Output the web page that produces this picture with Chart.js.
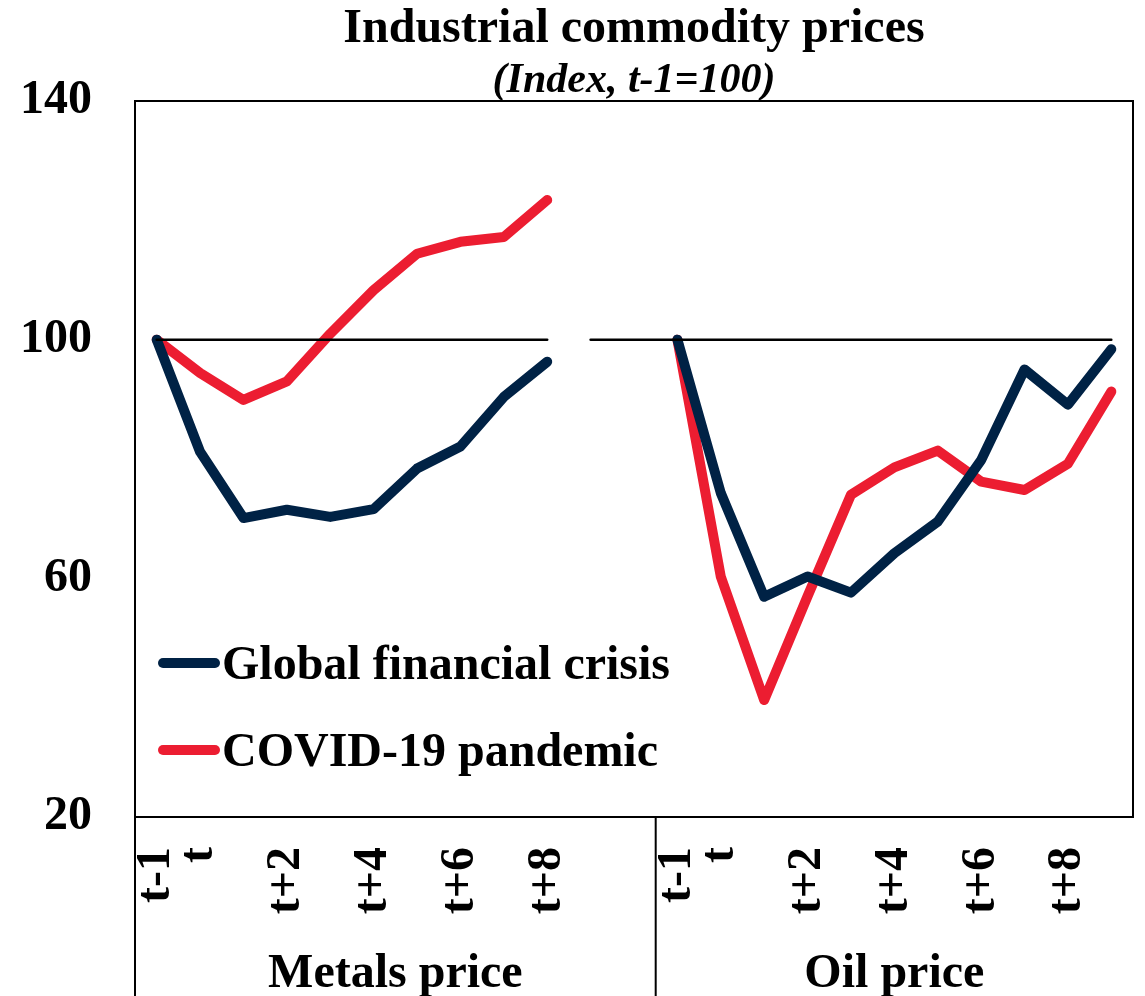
<!DOCTYPE html>
<html>
<head>
<meta charset="utf-8">
<script src="https://cdn.jsdelivr.net/npm/chart.js@4.4.1/dist/chart.umd.min.js"></script>
<style>
  html, body { margin: 0; padding: 0; background: #ffffff; }
  #wrap { position: relative; width: 1145px; height: 996px; }
</style>
</head>
<body>
<div id="wrap"><canvas id="c" width="1145" height="996"></canvas></div>
<script>
// ---- Data ----
const titleText = 'Industrial commodity prices';
const subtitleText = '(Index, t-1=100)';
const groupNames = ['Metals price', 'Oil price'];
const seriesNames = ['Global financial crisis', 'COVID-19 pandemic'];

const metalsPeriods = ['t-1', 't', 't+1', 't+2', 't+3', 't+4', 't+5', 't+6', 't+7', 't+8'];
const metalsBlankSlots = ['', ''];
const oilPeriods = ['t-1', 't', 't+1', 't+2', 't+3', 't+4', 't+5', 't+6', 't+7', 't+8', 't+9'];
const shownTickLabels = ['t-1', 't', 't+2', 't+4', 't+6', 't+8'];

const metalsGFC   = [100, 81.2, 70.1, 71.5, 70.3, 71.6, 78.4, 82.1, 90.4, 96.3];
const metalsCOVID = [100, 94.4, 89.9, 93.0, 101.0, 108.3, 114.4, 116.4, 117.2, 123.4];
const oilGFC      = [100, 74.3, 56.9, 60.3, 57.6, 64.2, 69.5, 79.8, 95.0, 89.1, 98.4];
const oilCOVID    = [100, 60.3, 39.6, 57.0, 74.0, 78.6, 81.4, 76.2, 74.8, 79.2, 91.3];
const baselineValue = 100;

const yTicks = [20, 60, 100, 140];

// ---- Build the library structures ----
const labels = [...metalsPeriods, ...metalsBlankSlots, ...oilPeriods];
const nMetalsGroup = metalsPeriods.length + metalsBlankSlots.length;
const pad = n => Array(n).fill(null);
const gfcData   = [...metalsGFC, ...pad(metalsBlankSlots.length), ...oilGFC];
const covidData = [...metalsCOVID, ...pad(metalsBlankSlots.length), ...oilCOVID];
const baseMetals = [...metalsPeriods.map(() => baselineValue), ...pad(labels.length - metalsPeriods.length)];
const baseOil = [...pad(metalsPeriods.length), ...labels.slice(metalsPeriods.length).map(() => baselineValue)];

const NAVY = '#002245';
const RED = '#EC1D31';
const FONT = '"Liberation Serif", "Times New Roman", serif';

const decorPlugin = {
  id: 'decor',
  afterDraw(chart) {
    const ctx = chart.ctx;
    const a = chart.chartArea;
    const xs = chart.scales.x;
    ctx.save();
    // plot border
    ctx.strokeStyle = '#000';
    ctx.lineWidth = 2;
    ctx.strokeRect(a.left, a.top, a.right - a.left, a.bottom - a.top);
    // group separators below the axis
    const step = xs.getPixelForValue(1) - xs.getPixelForValue(0);
    const boundary = xs.getPixelForValue(nMetalsGroup - 1) + step / 2;
    ctx.beginPath();
    ctx.moveTo(a.left, a.bottom); ctx.lineTo(a.left, chart.height);
    ctx.moveTo(boundary, a.bottom); ctx.lineTo(boundary, chart.height);
    ctx.stroke();
    // group labels
    ctx.fillStyle = '#000';
    ctx.font = 'bold 48px ' + FONT;
    ctx.textAlign = 'center';
    ctx.textBaseline = 'alphabetic';
    ctx.fillText(groupNames[0], (a.left + boundary) / 2, 987);
    ctx.fillText(groupNames[1], (boundary + a.right) / 2, 987);
    // title
    const cx = (a.left + a.right) / 2;
    ctx.font = 'bold 48px ' + FONT;
    ctx.fillText(titleText, cx, 42);
    ctx.font = 'italic bold 42px ' + FONT;
    ctx.fillText(subtitleText, cx, 92);
    // legend inside plot
    const colors = [NAVY, RED];
    const rows = [663, 750];
    ctx.textAlign = 'left';
    ctx.font = 'bold 48px ' + FONT;
    rows.forEach((ry, i) => {
      ctx.strokeStyle = colors[i];
      ctx.lineWidth = 10;
      ctx.lineCap = 'round';
      ctx.beginPath();
      ctx.moveTo(163, ry); ctx.lineTo(215, ry);
      ctx.stroke();
      ctx.fillStyle = '#000';
      ctx.fillText(seriesNames[i], 222, ry + 16);
    });
    ctx.restore();
  }
};

const lineDs = (label, data, color, width) => ({
  label, data,
  borderColor: color, backgroundColor: color,
  borderWidth: width, pointRadius: 0, pointHoverRadius: 0,
  borderCapStyle: 'round', borderJoinStyle: 'round',
  spanGaps: false, tension: 0, fill: false
});

new Chart(document.getElementById('c'), {
  type: 'line',
  data: {
    labels,
    datasets: [
      lineDs('base-metals', baseMetals, '#000', 2.5),
      lineDs('base-oil', baseOil, '#000', 2.5),
      lineDs(seriesNames[0], gfcData, NAVY, 10),
      lineDs(seriesNames[1], covidData, RED, 10)
    ]
  },
  options: {
    responsive: false,
    animation: false,
    events: [],
    layout: { padding: { top: 101, right: 12, left: 0, bottom: 0 } },
    plugins: { legend: { display: false }, title: { display: false }, tooltip: { enabled: false } },
    scales: {
      x: {
        type: 'category',
        offset: true,
        grid: { display: false, drawTicks: false },
        border: { display: true, color: '#000', width: 2 },
        ticks: {
          autoSkip: false, minRotation: 90, maxRotation: 90, padding: 30,
          color: '#000',
          font: { family: FONT, size: 48, weight: 'bold' },
          callback(v, i) {
            const l = labels[i];
            return shownTickLabels.includes(l) ? l : '';
          }
        },
        afterFit(s) { s.height = 179; s.paddingLeft = 0; s.paddingRight = 0; }
      },
      y: {
        min: 20, max: 140,
        afterBuildTicks(s) { s.ticks = yTicks.map(v => ({ value: v })); },
        grid: { display: false, drawTicks: false },
        border: { display: true, color: '#000', width: 2 },
        ticks: {
          padding: 43, color: '#000',
          font: { family: FONT, size: 48, weight: 'bold' }
        },
        afterFit(s) { s.width = 135; s.paddingTop = 0; s.paddingBottom = 0; }
      }
    }
  },
  plugins: [decorPlugin]
});
</script>
</body>
</html>
